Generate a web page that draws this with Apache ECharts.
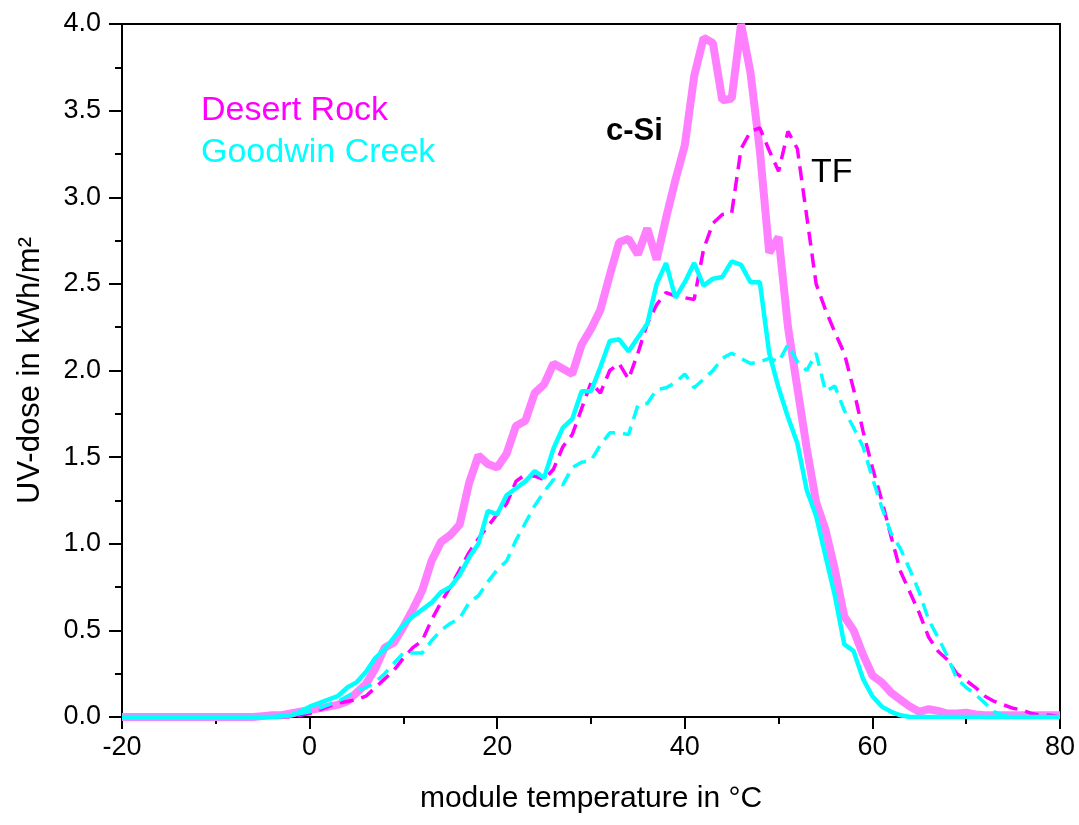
<!DOCTYPE html>
<html>
<head>
<meta charset="utf-8">
<script src="https://cdn.jsdelivr.net/npm/echarts@6/dist/echarts.min.js"></script>
<style>
html,body{margin:0;padding:0;background:#fff;}
#chart{width:1079px;height:825px;}
</style>
</head>
<body>
<div id="chart"></div>
<script>
// module temperature in °C (1 °C steps)
const temps = [];
for (let t = -20; t <= 80; t++) temps.push(t);

const xTicks = [-20, 0, 20, 40, 60, 80];
const yTicks = [0, 0.5, 1, 1.5, 2, 2.5, 3, 3.5, 4];

// Desert Rock, c-Si (solid)
const desertRockCSi = [
  0,0,0,0,0,0,0,0,0,0,0,0,0,0,0,            // -20..-6
  0.005,0.01,0.01,0.02,0.03,                 // -5..-1
  0.04,0.05,0.06,0.07,0.09,0.14,0.19,0.28,0.40,0.43, // 0..9
  0.52,0.62,0.73,0.90,1.01,1.05,1.11,1.35,1.51,1.46, // 10..19
  1.44,1.52,1.68,1.71,1.87,1.92,2.04,2.01,1.98,2.15, // 20..29
  2.24,2.35,2.55,2.74,2.76,2.67,2.82,2.64,2.88,3.10, // 30..39
  3.30,3.70,3.92,3.89,3.56,3.57,4.00,3.72,3.27,2.68, // 40..49
  2.77,2.25,1.90,1.55,1.24,1.08,0.85,0.58,0.50,0.36, // 50..59
  0.24,0.20,0.14,0.10,0.06,0.03,0.045,0.035,0.02,0.02, // 60..69
  0.025,0.015,0.01,0.01,0.01,0.01,0.01,0.01,0.01,0.01,0.01 // 70..80
];

// Desert Rock, thin film (dashed)
const desertRockTF = [
  0,0,0,0,0,0,0,0,0,0,0,0,0,0,0,0,0,0,0,    // -20..-2
  0.01,                                      // -1
  0.02,0.04,0.06,0.08,0.09,0.10,0.12,0.17,0.22,0.27, // 0..9
  0.34,0.40,0.44,0.56,0.66,0.75,0.85,0.95,1.03,1.10, // 10..19
  1.17,1.23,1.36,1.40,1.39,1.37,1.43,1.56,1.63,1.78, // 20..29
  1.93,1.87,2.00,2.04,1.95,2.10,2.27,2.38,2.45,2.43, // 30..39
  2.42,2.41,2.70,2.85,2.90,2.91,3.28,3.38,3.40,3.27, // 40..49
  3.15,3.38,3.28,2.89,2.50,2.35,2.22,2.10,1.89,1.65, // 50..59
  1.44,1.25,1.04,0.84,0.72,0.60,0.46,0.38,0.33,0.25, // 60..69
  0.21,0.17,0.12,0.09,0.07,0.05,0.04,0.02,0.01,0.01,0 // 70..80
];

// Goodwin Creek, c-Si (solid)
const goodwinCSi = [
  0,0,0,0,0,0,0,0,0,0,0,0,0,0,0,0,0,        // -20..-4
  0.005,0.01,0.03,                           // -3..-1
  0.06,0.08,0.10,0.12,0.17,0.20,0.26,0.34,0.39,0.46, // 0..9
  0.53,0.58,0.62,0.66,0.72,0.75,0.82,0.92,1.00,1.19, // 10..19
  1.17,1.28,1.32,1.36,1.42,1.38,1.55,1.67,1.72,1.88, // 20..29
  1.88,2.02,2.17,2.18,2.11,2.19,2.27,2.50,2.62,2.42, // 30..39
  2.51,2.62,2.49,2.53,2.54,2.63,2.61,2.51,2.51,2.10, // 40..49
  1.90,1.73,1.58,1.31,1.16,0.93,0.70,0.42,0.38,0.22, // 50..59
  0.12,0.06,0.03,0.01,0,0,0,0,0,0,           // 60..69
  0,0,0,0,0,0,0,0,0,0,0                      // 70..80
];

// Goodwin Creek, thin film (dashed)
const goodwinTF = [
  0,0,0,0,0,0,0,0,0,0,0,0,0,0,0,0,0,0,      // -20..-3
  0.01,0.02,                                 // -2..-1
  0.03,0.05,0.07,0.09,0.12,0.15,0.17,0.20,0.25,0.31, // 0..9
  0.37,0.37,0.37,0.44,0.50,0.54,0.57,0.66,0.70,0.78, // 10..19
  0.85,0.90,1.02,1.12,1.22,1.30,1.37,1.34,1.44,1.47, // 20..29
  1.48,1.57,1.64,1.64,1.63,1.80,1.81,1.89,1.90,1.93, // 30..39
  1.98,1.90,1.95,2.00,2.07,2.10,2.07,2.04,2.05,2.07, // 40..49
  2.05,2.15,2.05,2.00,2.10,1.88,1.91,1.77,1.67,1.56, // 50..59
  1.38,1.21,1.06,0.97,0.85,0.72,0.56,0.46,0.35,0.22, // 60..69
  0.17,0.13,0.08,0.03,0.01,0,0,0,0,0,0       // 70..80
];

function pairs(vals) { return temps.map((t, i) => [t, vals[i]]); }

const FONT = '"Liberation Sans", Arial, sans-serif';
const chart = echarts.init(document.getElementById('chart'), null, {renderer: 'canvas'});

chart.setOption({
  backgroundColor: '#ffffff',
  animation: false,
  grid: {
    left: 122, right: 19, top: 24, bottom: 108,
    show: true, borderColor: '#000', borderWidth: 2, backgroundColor: 'transparent'
  },
  xAxis: {
    type: 'value',
    min: xTicks[0], max: xTicks[xTicks.length - 1], interval: 20,
    name: 'module temperature in °C',
    nameLocation: 'middle', nameGap: 67,
    nameTextStyle: {fontFamily: FONT, fontSize: 30, color: '#000'},
    axisLine: {show: true, onZero: false, lineStyle: {color: '#000', width: 2}},
    axisTick: {show: true, inside: false, length: 12, lineStyle: {color: '#000', width: 2}},
    minorTick: {show: true, splitNumber: 2, length: 7, lineStyle: {color: '#000', width: 2}},
    axisLabel: {fontFamily: FONT, fontSize: 27, color: '#000', margin: 17,
      formatter: v => String(v)},
    splitLine: {show: false}
  },
  yAxis: {
    type: 'value',
    min: yTicks[0], max: yTicks[yTicks.length - 1], interval: 0.5,
    name: 'UV-dose in kWh/m²',
    nameLocation: 'middle', nameGap: 76,
    nameTextStyle: {fontFamily: FONT, fontSize: 31, color: '#000'},
    axisLine: {show: true, onZero: false, lineStyle: {color: '#000', width: 2}},
    axisTick: {show: true, inside: false, length: 13, lineStyle: {color: '#000', width: 2}},
    minorTick: {show: true, splitNumber: 2, length: 7, lineStyle: {color: '#000', width: 2}},
    axisLabel: {fontFamily: FONT, fontSize: 27, color: '#000', margin: 21,
      formatter: v => v.toFixed(1)},
    splitLine: {show: false}
  },
  series: [
    {name: 'Desert Rock c-Si', type: 'line', data: pairs(desertRockCSi), showSymbol: false,
     lineStyle: {color: '#ff80ff', width: 8}, z: 2},
    {name: 'Desert Rock TF', type: 'line', data: pairs(desertRockTF), showSymbol: false,
     lineStyle: {color: '#ff00ff', width: 3.5, type: [14, 8]}, z: 3},
    {name: 'Goodwin Creek c-Si', type: 'line', data: pairs(goodwinCSi), showSymbol: false,
     lineStyle: {color: '#00ffff', width: 4.5}, z: 4},
    {name: 'Goodwin Creek TF', type: 'line', data: pairs(goodwinTF), showSymbol: false,
     lineStyle: {color: '#00ffff', width: 3.5, type: [14, 8]}, z: 5}
  ],
  graphic: [
    {type: 'text', left: 201, top: 94, style: {text: 'Desert Rock', fill: '#ff00ff',
      font: '34px "Liberation Sans", Arial, sans-serif'}},
    {type: 'text', left: 201, top: 136, style: {text: 'Goodwin Creek', fill: '#00ffff',
      font: '34px "Liberation Sans", Arial, sans-serif'}},
    {type: 'text', left: 606, top: 116, style: {text: 'c-Si', fill: '#000',
      font: 'bold 31px "Liberation Sans", Arial, sans-serif'}},
    {type: 'text', left: 811, top: 156, style: {text: 'TF', fill: '#000',
      font: '34px "Liberation Sans", Arial, sans-serif'}}
  ]
});
</script>
</body>
</html>
